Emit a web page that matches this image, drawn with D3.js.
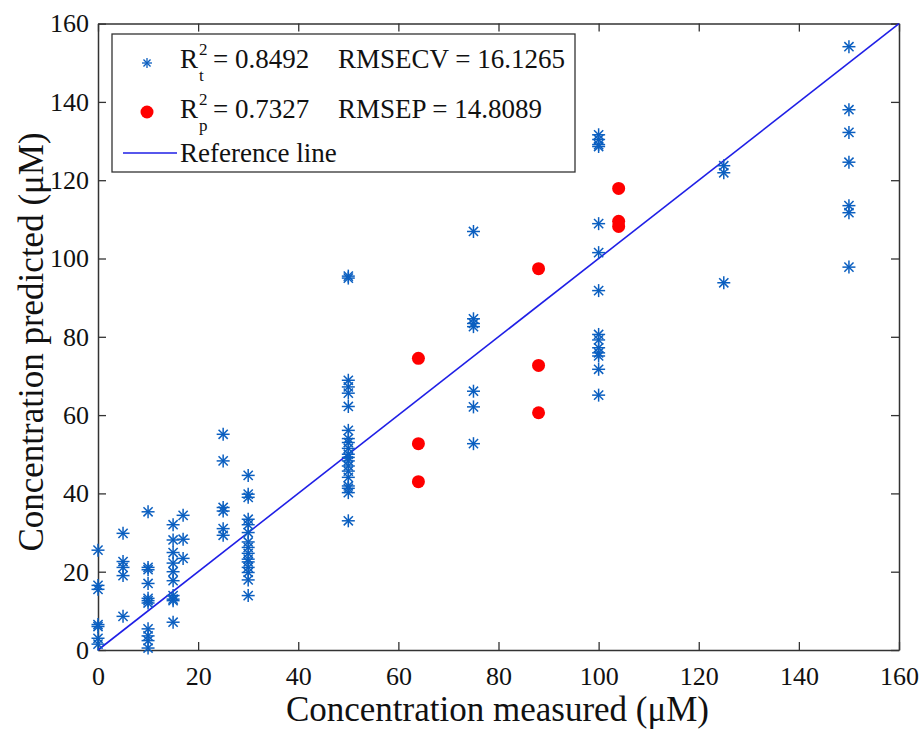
<!DOCTYPE html>
<html><head><meta charset="utf-8">
<script src="https://cdn.jsdelivr.net/npm/d3@7"></script>
<style>
html,body{margin:0;padding:0;background:#fff;}
text{font-family:"Liberation Serif","Times New Roman",serif;fill:#111;}
</style></head>
<body>
<svg id="chart" width="921" height="729"></svg>
<script>
// ---- data ----
const trainLevels = [0, 5, 10, 15, 17, 25, 30, 50, 75, 100, 125, 150];
const trainPredicted = [
  [25.5, 16.5, 15.5, 6.5, 6.0, 3.0, 1.5],
  [29.8, 22.6, 21.1, 19.0, 8.6],
  [35.3, 21.1, 20.5, 17.0, 13.2, 12.6, 12.0, 5.4, 3.6, 2.4, 0.5],
  [32.0, 28.1, 24.9, 22.2, 20.0, 17.7, 13.9, 13.0, 12.6, 7.1],
  [34.4, 28.3, 23.4],
  [55.1, 48.3, 36.4, 35.5, 31.0, 29.3],
  [44.6, 39.8, 39.0, 33.4, 32.0, 30.0, 27.6, 26.2, 24.7, 23.2, 22.5, 21.1, 19.8, 17.9, 13.9],
  [95.5, 95.0, 68.9, 67.2, 65.6, 62.2, 56.1, 54.0, 53.0, 51.5, 50.0, 49.2, 48.3, 47.0, 45.7, 44.1, 41.9, 41.3, 40.2, 33.0],
  [106.9, 84.6, 83.4, 82.6, 66.1, 62.1, 52.7],
  [131.6, 130.4, 129.1, 128.6, 108.9, 101.5, 91.8, 80.6, 79.2, 77.2, 75.9, 75.1, 71.7, 65.1],
  [123.7, 121.9, 93.8],
  [154.1, 138.0, 132.2, 124.6, 113.5, 111.7, 97.8]
];
const testLevels = [64, 88, 104];
const testPredicted = [
  [74.5, 52.7, 43.0],
  [97.4, 72.7, 60.6],
  [117.9, 109.5, 108.2]
];
const referenceLine = [0, 160];
const xTicks = [0, 20, 40, 60, 80, 100, 120, 140, 160];
const yTicks = [0, 20, 40, 60, 80, 100, 120, 140, 160];
const legendSubs = ["t", "p"];
const legendR2 = ["0.8492", "0.7327"];
const legendMetrics = ["RMSECV", "RMSEP"];
const legendValues = ["16.1265", "14.8089"];
const legendLineLabel = "Reference line";
const xTitle = "Concentration measured (\u03BCM)";
const yTitle = "Concentration predicted (\u03BCM)";

// ---- layout ----
const svg = d3.select("#chart");
const L = 98, R = 899, T = 23.6, B = 650;
const x = d3.scaleLinear().domain([0, 160]).range([L, R]);
const y = d3.scaleLinear().domain([0, 160]).range([B, T]);
const blue = "#0b5fc0", red = "#ff0000", lineBlue = "#1f1fe6", axisCol = "#333";

const trainPts = trainLevels.flatMap((lv, i) => trainPredicted[i].map(v => ({x: lv, y: v})));
const testPts = testLevels.flatMap((lv, i) => testPredicted[i].map(v => ({x: lv, y: v})));

// axes (MATLAB box with inward ticks)
const tickLen = 8;
const gB = svg.append("g").attr("transform", `translate(0,${B})`)
  .call(d3.axisBottom(x).tickValues(xTicks).tickSizeInner(-tickLen).tickSizeOuter(0).tickPadding(17));
const gT = svg.append("g").attr("transform", `translate(0,${T})`)
  .call(d3.axisTop(x).tickValues(xTicks).tickSizeInner(-tickLen).tickSizeOuter(0).tickFormat(""));
const gL = svg.append("g").attr("transform", `translate(${L},0)`)
  .call(d3.axisLeft(y).tickValues(yTicks).tickSizeInner(-tickLen).tickSizeOuter(0).tickPadding(9));
const gR = svg.append("g").attr("transform", `translate(${R},0)`)
  .call(d3.axisRight(y).tickValues(yTicks).tickSizeInner(-tickLen).tickSizeOuter(0).tickFormat(""));
[gB, gT, gL, gR].forEach(g => {
  g.attr("font-family", null);
  g.select(".domain").attr("stroke", axisCol).attr("stroke-width", 1.5);
  g.selectAll(".tick line").attr("stroke", axisCol).attr("stroke-width", 1.3);
  g.selectAll("text").attr("font-size", 26).attr("fill", "#111");
});
gB.selectAll("text").attr("dy", "0.71em");

// reference line
svg.append("line")
  .attr("x1", x(referenceLine[0])).attr("y1", y(referenceLine[0]))
  .attr("x2", x(referenceLine[1])).attr("y2", y(referenceLine[1]))
  .attr("stroke", lineBlue).attr("stroke-width", 1.6);

// asterisk marker
function star(sel, s) {
  const d = s * 0.7071;
  sel.append("line").attr("x1", -s).attr("x2", s).attr("y1", 0).attr("y2", 0);
  sel.append("line").attr("x1", 0).attr("x2", 0).attr("y1", -s).attr("y2", s);
  sel.append("line").attr("x1", -d).attr("x2", d).attr("y1", -d).attr("y2", d);
  sel.append("line").attr("x1", -d).attr("x2", d).attr("y1", d).attr("y2", -d);
}
svg.append("g").selectAll("g").data(trainPts).join("g")
  .attr("transform", d => `translate(${x(d.x)},${y(d.y)})`)
  .attr("stroke", blue).attr("stroke-width", 1.5)
  .each(function(){ star(d3.select(this), 6.5); });

svg.append("g").selectAll("circle").data(testPts).join("circle")
  .attr("cx", d => x(d.x)).attr("cy", d => y(d.y)).attr("r", 6.5).attr("fill", red);

// axis titles
svg.append("text").attr("x", 497.5).attr("y", 721).attr("text-anchor", "middle")
  .attr("font-size", 35).text(xTitle);
svg.append("text").attr("transform", `translate(43,342) rotate(-90)`).attr("text-anchor", "middle")
  .attr("font-size", 35).text(yTitle);

// legend
const lg = svg.append("g");
lg.append("rect").attr("x", 112).attr("y", 34).attr("width", 463).attr("height", 138)
  .attr("fill", "#fff").attr("stroke", axisCol).attr("stroke-width", 1.3);
const rowY = [68, 118];
const markY = [63, 112];
legendSubs.forEach((sub, i) => {
  if (i === 0) {
    const g = lg.append("g").attr("transform", `translate(147,${markY[i]})`).attr("stroke", blue).attr("stroke-width", 1.3);
    star(g, 5);
  } else {
    lg.append("circle").attr("cx", 147).attr("cy", markY[i]).attr("r", 6.5).attr("fill", red);
  }
  const t = lg.append("text").attr("x", 180).attr("y", rowY[i]).attr("font-size", 27);
  t.append("tspan").text("R");
  t.append("tspan").attr("x", 199).attr("dy", -13).attr("font-size", 17).text("2");
  t.append("tspan").attr("x", 199).attr("dy", 26).attr("font-size", 17).text(sub);
  t.append("tspan").attr("x", 213).attr("dy", -13).text("= " + legendR2[i]);
  t.append("tspan").attr("x", 338).text(legendMetrics[i] + " = " + legendValues[i]);
});
lg.append("line").attr("x1", 123).attr("x2", 177).attr("y1", 153).attr("y2", 153)
  .attr("stroke", lineBlue).attr("stroke-width", 1.6);
lg.append("text").attr("x", 180).attr("y", 162).attr("font-size", 27).text(legendLineLabel);
</script>
</body></html>
